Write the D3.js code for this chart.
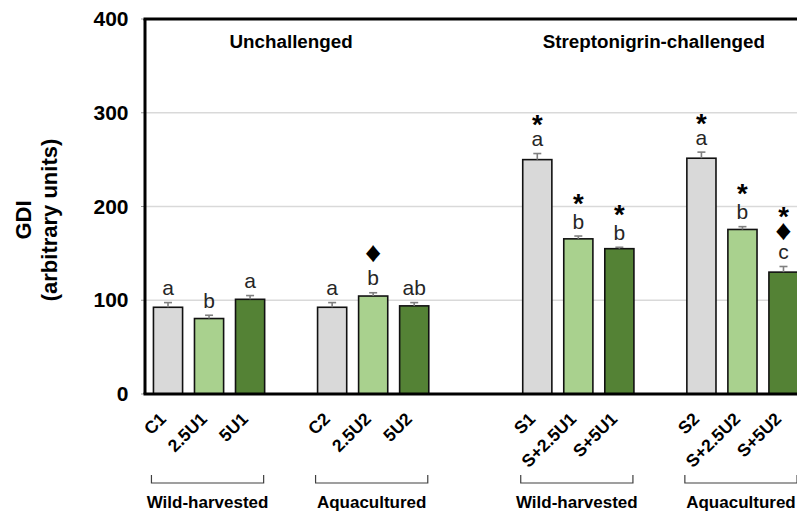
<!DOCTYPE html>
<html><head><meta charset="utf-8">
<script src="https://cdn.jsdelivr.net/npm/d3@7/dist/d3.min.js"></script>
<style>html,body{margin:0;padding:0;background:#fff;overflow:hidden}svg{display:block}</style>
</head><body>
<script>
// ---- data ----
const categories = ["C1","2.5U1","5U1","C2","2.5U2","5U2","S1","S+2.5U1","S+5U1","S2","S+2.5U2","S+5U2"];
const values     = [92.5, 80.5, 101, 92.5, 104.5, 94, 250, 165.5, 155, 251.5, 175.5, 130];
const errors     = [5, 3.5, 4, 5, 3.5, 3.5, 6.5, 3, 1.5, 6.5, 3, 6];
const letters    = ["a","b","a","a","b","ab","a","b","b","a","b","c"];
const stars      = [0,0,0,0,0,0,1,1,1,1,1,1];
const diamonds   = [0,0,0,0,1,0,0,0,0,0,0,1];
const doseLevel  = [0,1,2,0,1,2,0,1,2,0,1,2];
const groupLabels = ["Wild-harvested","Aquacultured","Wild-harvested","Aquacultured"];
const panelTitles = ["Unchallenged","Streptonigrin-challenged"];
const yTicks = [0,100,200,300,400];
const yTitle = ["GDI","(arbitrary units)"];

// ---- layout ----
const W = 797, H = 513;
const FONT = "Liberation Sans, Arial, sans-serif";
const colors = ["#d9d9d9","#a9d18e","#548235"];
const spacerCounts = [1,2,1];
const domain = [];
categories.forEach((c,i)=>{
  domain.push(c);
  if (i%3===2 && i<categories.length-1){
    const g = Math.floor(i/3);
    for(let k=0;k<spacerCounts[g];k++) domain.push("gap"+g+"_"+k);
  }
});

// ink metrics helper (canvas)
const ctx = document.createElement("canvas").getContext("2d");
function ink(txt, size, weight){
  ctx.font = `${weight} ${size}px "Liberation Sans"`;
  const m = ctx.measureText(txt);
  const asc = m.actualBoundingBoxAscent, desc = m.actualBoundingBoxDescent;
  const w = m.actualBoundingBoxRight + m.actualBoundingBoxLeft;
  const ok = isFinite(asc) && (asc+desc) > 0;
  return ok ? {asc, desc, w} : null;
}

const svg = d3.select("body").append("svg").attr("width",W).attr("height",H);
const x = d3.scaleBand().domain(domain).range([147.5, 804]).paddingInner(0.29).paddingOuter(0.145);
const y = d3.scaleLinear().domain([0,400]).range([394,19]);
const axisX = 145, plotRight = 800;

// gridlines
svg.append("g").selectAll("line").data(yTicks.filter(t=>t>0&&t<400)).join("line")
  .attr("x1",axisX).attr("x2",plotRight).attr("y1",d=>y(d)).attr("y2",d=>y(d))
  .attr("stroke","#d9d9d9").attr("stroke-width",1.3);

// y tick marks + labels
svg.append("g").selectAll("line").data(yTicks).join("line")
  .attr("x1",axisX-4).attr("x2",axisX).attr("y1",d=>y(d)).attr("y2",d=>y(d))
  .attr("stroke","#999").attr("stroke-width",1);
svg.append("g").selectAll("text").data(yTicks).join("text")
  .attr("x",128.5).attr("y",d=>y(d)+7).attr("text-anchor","end")
  .attr("font-family",FONT).attr("font-weight","bold")
  .attr("font-size",21).attr("fill","#000").text(d=>d);

// y title
const yt = svg.append("g").attr("font-family",FONT)
  .attr("font-weight","bold").attr("font-size",22).attr("text-anchor","middle");
yt.append("text").attr("transform","translate(31,220) rotate(-90)").text(yTitle[0]);
yt.append("text").attr("transform","translate(57,220) rotate(-90)").text(yTitle[1]);

// bars
const bars = categories.map((c,i)=>({c,v:values[i],e:errors[i],l:letters[i],s:stars[i],d:diamonds[i],k:doseLevel[i]}));
svg.append("g").selectAll("rect").data(bars).join("rect")
  .attr("x",d=>x(d.c)).attr("width",x.bandwidth())
  .attr("y",d=>y(d.v)).attr("height",d=>y(0)-y(d.v))
  .attr("fill",d=>colors[d.k]).attr("stroke","#111").attr("stroke-width",1.6);

// error bars
const eb = svg.append("g").attr("stroke","#808080").attr("stroke-width",1.6);
bars.forEach(d=>{
  const cx = x(d.c)+x.bandwidth()/2;
  eb.append("line").attr("x1",cx).attr("x2",cx).attr("y1",y(d.v)).attr("y2",y(d.v+d.e));
  eb.append("line").attr("x1",cx-4).attr("x2",cx+4).attr("y1",y(d.v+d.e)).attr("y2",y(d.v+d.e));
});

// annotations (stacked bottom-up: letter, diamond, star)
const LET = 21;
const STAR = 30, DIA = 22;
const DIA_H = 19.5, DIA_W = 16;
const starM = ink("*",STAR,"bold") || {asc:21.6, desc:-11.6, w:10};
const diaM  = ink("\u2666",DIA,"normal") || {asc:14, desc:0, w:10};
const starScale = 11/(starM.asc+starM.desc);
const diaSY = DIA_H/(diaM.asc+diaM.desc), diaSX = DIA_W/(diaM.w||10);
const ann = svg.append("g").attr("font-family",FONT).attr("text-anchor","middle");
bars.forEach(d=>{
  const cx = x(d.c)+x.bandwidth()/2;
  const base = y(d.v+d.e) - 7.5;
  ann.append("text").attr("x",cx).attr("y",base).attr("font-size",LET).attr("fill","#262626").text(d.l);
  const lm = ink(d.l,LET,"normal");
  let top = base - (lm ? lm.asc : (/[bdfhklt]/.test(d.l)?15.3:11.5));
  if (d.d){
    const bottom = top - 7;
    const bl = bottom - diaM.desc*diaSY;
    ann.append("text").attr("transform",`translate(${cx},${bl}) scale(${diaSX},${diaSY})`)
      .attr("font-size",DIA).attr("fill","#000").text("\u2666");
    top = bottom - 16;
  }
  if (d.s){
    const bottom = top - (d.d ? 6.5 : 8);
    const bl = bottom - starM.desc*starScale;
    ann.append("text").attr("transform",`translate(${cx},${bl}) scale(${starScale})`)
      .attr("font-size",STAR).attr("font-weight","bold").attr("fill","#000").text("*");
  }
});

// axes lines
svg.append("line").attr("x1",axisX).attr("x2",axisX).attr("y1",y(400)).attr("y2",y(0)).attr("stroke","#000").attr("stroke-width",3);
svg.append("line").attr("x1",axisX-1.5).attr("x2",plotRight).attr("y1",y(400)).attr("y2",y(400)).attr("stroke","#000").attr("stroke-width",3);
svg.append("line").attr("x1",axisX-1.5).attr("x2",plotRight).attr("y1",y(0)).attr("y2",y(0)).attr("stroke","#000").attr("stroke-width",3);

// x tick labels
svg.append("g").selectAll("text").data(categories).join("text")
  .attr("transform",c=>`translate(${x(c)+x.bandwidth()/2-1},420) rotate(-45)`)
  .attr("text-anchor","end")
  .attr("font-family",FONT).attr("font-weight","bold")
  .attr("font-size",17.5).attr("fill","#000").text(c=>c);

// brackets + group labels
const br = svg.append("g");
for (let g=0; g<4; g++){
  const first = categories[g*3], last = categories[g*3+2];
  const x1 = x(first)-2, x2 = x(last)+x.bandwidth()-1;
  br.append("path").attr("d",`M${x1},475V483H${x2}V475`).attr("fill","none").attr("stroke","#404040").attr("stroke-width",1.2);
  br.append("text").attr("x",(x1+x2)/2).attr("y",508).attr("text-anchor","middle")
    .attr("font-family",FONT).attr("font-weight","bold")
    .attr("font-size",17).attr("fill","#000").text(groupLabels[g]);
}

// panel titles
for (let p=0; p<2; p++){
  const first = categories[p*6], last = categories[p*6+5];
  const x1 = x(first), x2 = Math.min(x(last)+x.bandwidth(), W-12);
  svg.append("text").attr("x",(x1+x2)/2).attr("y",48).attr("text-anchor","middle")
    .attr("font-family",FONT).attr("font-weight","bold")
    .attr("font-size",18.8).attr("fill","#000").text(panelTitles[p]);
}
</script>
</body></html>
